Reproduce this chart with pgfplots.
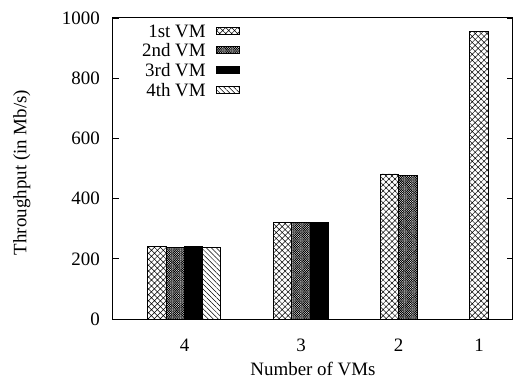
\documentclass[border=0pt]{standalone}
\usepackage{fontspec}
\setmainfont{Liberation Serif}
\usepackage{pgfplots}
\pgfplotsset{compat=1.18}
\usetikzlibrary{patterns.meta}
\begin{document}
\fontsize{19}{22}\selectfont
\begin{tikzpicture}
\begin{axis}[
  scale only axis, width=400bp, height=301bp,
  xmin=113, xmax=513, ymin=0, ymax=1000,
  ytick={0,200,400,600,800,1000},
  xtick={184.5,301,398.5,479}, xticklabels={4,3,2,1},
  /pgf/number format/assume math mode=true,
  /pgf/number format/1000 sep={},
  xtick style={draw=none},
  ytick style={line width=0.8bp, black},
  tick align=inside, major tick length=6bp,
  axis line style={line width=1bp},
  xticklabel style={anchor=base, inner sep=0pt, yshift=-26bp},
  yticklabel style={anchor=east, inner sep=0pt, xshift=-13bp},
  xlabel={Number of VMs},
  ylabel={Throughput (in Mb/s)},
  every axis x label/.style={at={(rel axis cs:0.5,0)}, anchor=base, yshift=-56bp, inner sep=0pt},
  every axis y label/.style={at={(rel axis cs:0,0.5)}, xshift=-100bp, yshift=-4bp, rotate=90, anchor=north, inner sep=0pt},
  ybar, bar width=18.5, bar shift=0pt,
  legend style={draw=none, fill=none, at={(rel axis cs:0.325,0.99)}, anchor=north east,
    row sep=3.5bp, column sep=9bp, nodes={inner sep=1.5bp, text depth=0pt}},
  legend cell align=right, legend plot pos=right,
  legend image code/.code={\draw[#1, line width=0.6bp] (0bp,-3.5bp) rectangle (23bp,3.5bp);},
]
\addplot[draw=black, line width=0.8bp, pattern={Hatch[angle=45,distance=4.2bp,line width=0.5bp]}]
  coordinates {(157,241) (282.5,322) (389.5,482) (479,955)};
\addlegendentry{1st VM}
\addplot[draw=black, line width=0.8bp, pattern={Hatch[angle=45,distance=1.6bp,line width=0.55bp]}]
  coordinates {(175.5,238) (301,320) (408,477)};
\addlegendentry{2nd VM}
\addplot[draw=black, line width=0.8bp, fill=black]
  coordinates {(193.5,240) (319.5,320)};
\addlegendentry{3rd VM}
\addplot[draw=black, line width=0.8bp, pattern={Lines[angle=-45,distance=3.5bp,line width=0.5bp]}]
  coordinates {(211.5,239)};
\addlegendentry{4th VM}
\coordinate (sw) at (rel axis cs:0,0);
\coordinate (ne) at (rel axis cs:1,1);
\end{axis}
\pgfresetboundingbox
\path[use as bounding box] ([xshift=-113bp,yshift=-59bp]sw) rectangle ([xshift=1bp,yshift=18bp]ne);
\end{tikzpicture}
\end{document}
